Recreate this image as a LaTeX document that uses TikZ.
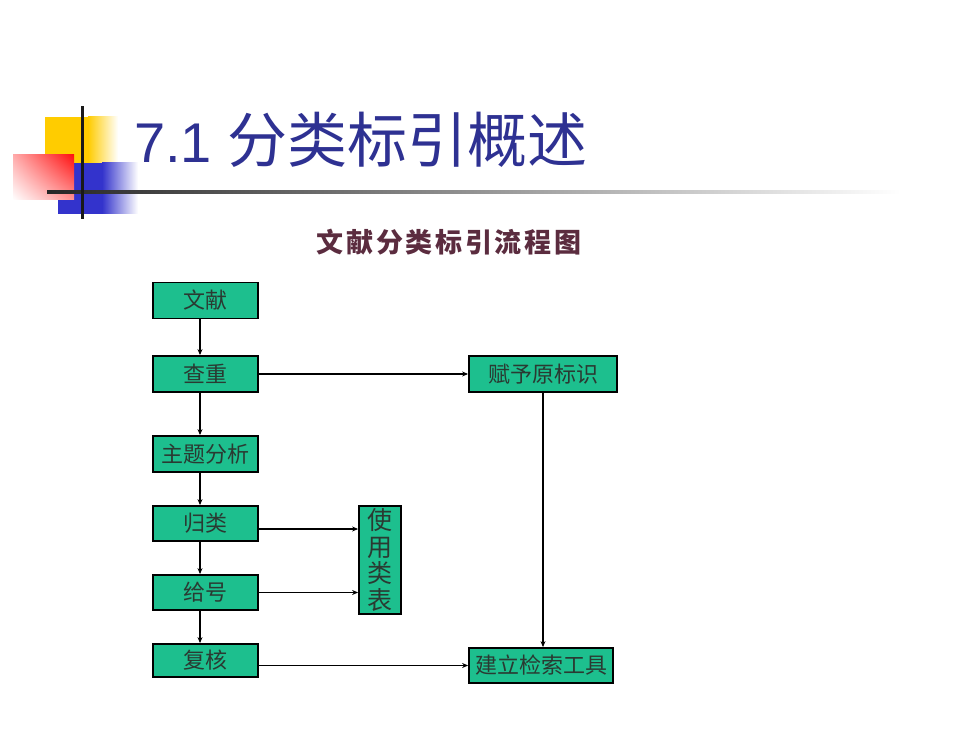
\documentclass[tikz,border=0pt]{standalone}
\usepackage{fontspec}
\newfontfamily\cjk{Noto Sans CJK SC}
\newfontfamily\cjkt[LetterSpace=10]{Noto Sans CJK SC}
\newfontfamily\latin{Liberation Sans}
\usetikzlibrary{arrows.meta,shadings}
\definecolor{titleblue}{HTML}{2E3192}
\definecolor{boxgreen}{HTML}{1DBF8E}
\definecolor{boxtext}{HTML}{2A3A32}
\definecolor{ftitle}{HTML}{5B2C3F}
\definecolor{decoyellow}{HTML}{FFCC00}
\definecolor{decoblue}{HTML}{3333CC}
\definecolor{decored}{HTML}{FF1010}
\begin{document}
\begin{tikzpicture}[x=1pt,y=-1pt,
  flowbox/.style={draw=black, line width=1.8pt, fill=boxgreen, text=boxtext,
    inner sep=0pt, font=\cjk\fontsize{22}{26}\selectfont},
  flowarrow/.style={line width=1.8pt, -{Stealth[length=6pt,width=5pt]}}]
\useasboundingbox (0,0) rectangle (980,735);
\fill[white] (0,0) rectangle (980,735);
% decoration
\fill[decoyellow] (45,117) rectangle (88,163);
\shade[left color=decoyellow, right color=white] (88,117) rectangle (118,163);
\fill[decoblue] (58,163) rectangle (102,214);
\shade[left color=decoblue, right color=white] (102,163) rectangle (138,214);
\shade[upper left=decored!35, upper right=decored, lower right=decored!45, lower left=white] (13,155) rectangle (74,200);
\shade[left color=black!85, right color=white] (47,190.5) rectangle (900,193.5);
\fill[black!90] (80.5,106) rectangle (83.5,219);
% title
\node[anchor=base west, text=titleblue, inner sep=0pt] (title) at (134,163)
  {\latin\fontsize{56}{60}\selectfont 7.1 \cjk\fontsize{60}{64}\selectfont 分类标引概述};
% flowchart title
\node[text=ftitle, inner sep=0pt, font=\cjkt\bfseries\fontsize{27}{30}\selectfont] (ftitle) at (449,242) {文献分类标引流程图};
% boxes
\node[flowbox, minimum width=105pt, minimum height=36pt] (wenxian) at (205.5,300.5) {文献};
\node[flowbox, minimum width=105pt, minimum height=36pt] (chachong) at (205.5,374) {查重};
\node[flowbox, minimum width=105pt, minimum height=36pt] (zhuti) at (205.5,454) {主题分析};
\node[flowbox, minimum width=105pt, minimum height=35pt] (guilei) at (205.5,523.5) {归类};
\node[flowbox, minimum width=105pt, minimum height=35pt] (geihao) at (205.5,592.5) {给号};
\node[flowbox, minimum width=105pt, minimum height=33pt] (fuhe) at (205.5,660.5) {复核};
\node[flowbox, minimum width=148pt, minimum height=36pt] (fuyu) at (543,374) {赋予原标识};
\node[flowbox, minimum width=42pt, minimum height=108pt, align=center,
  font=\cjk\fontsize{25}{26.5}\selectfont] (shiyong) at (380,560) {使\\用\\类\\表};
\node[flowbox, minimum width=144pt, minimum height=35pt] (jianli) at (541,665.5) {建立检索工具};
% connectors
\coordinate (gl) at ([yshift=-5.5pt]guilei.east);
\draw[flowarrow] ([xshift=-5.5pt]wenxian.south) -- ([xshift=-5.5pt]chachong.north);
\draw[flowarrow] ([xshift=-5.5pt]chachong.south) -- ([xshift=-5.5pt]zhuti.north);
\draw[flowarrow] ([xshift=-5.5pt]zhuti.south) -- ([xshift=-5.5pt]guilei.north);
\draw[flowarrow] ([xshift=-5.5pt]guilei.south) -- ([xshift=-5.5pt]geihao.north);
\draw[flowarrow] ([xshift=-5.5pt]geihao.south) -- ([xshift=-5.5pt]fuhe.north);
\draw[flowarrow] (chachong.east) -- (fuyu.west);
\draw[flowarrow] (gl) -- (shiyong.west |- gl);
\draw[flowarrow] (geihao.east) -- (shiyong.west |- geihao.east);
\draw[flowarrow] (fuhe.east |- jianli.west) -- (jianli.west);
\draw[flowarrow] (fuyu.south) -- (fuyu.south |- jianli.north);
\end{tikzpicture}
\end{document}
